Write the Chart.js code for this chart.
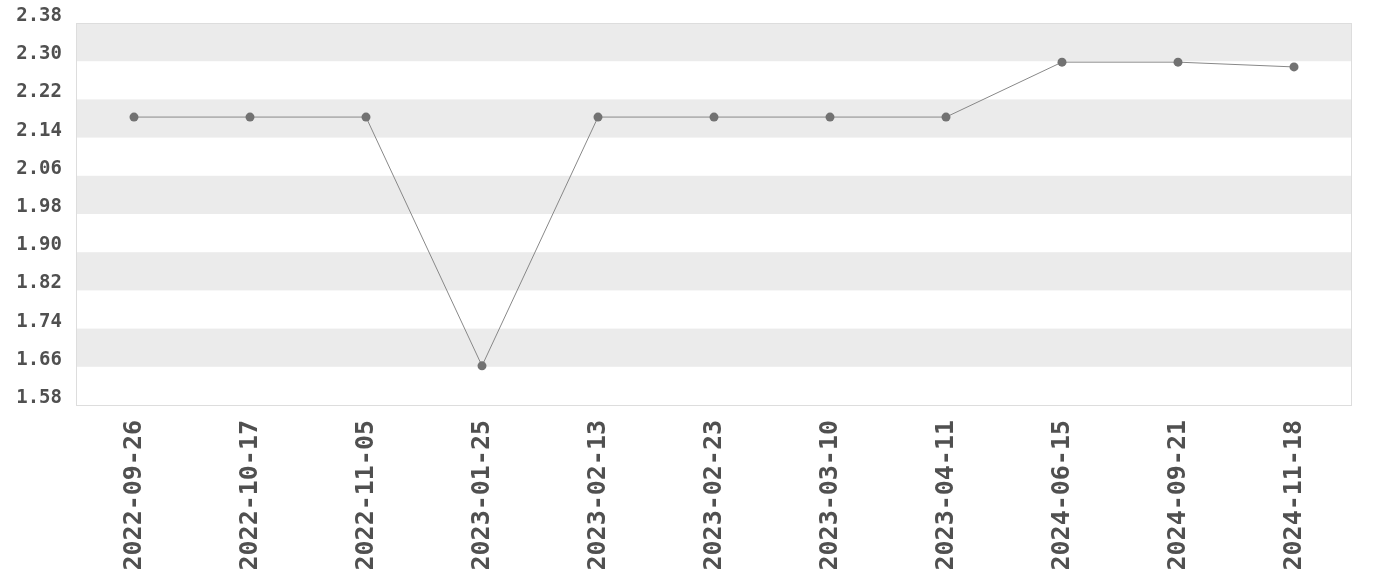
<!DOCTYPE html>
<html>
<head>
<meta charset="utf-8">
<script src="https://cdn.jsdelivr.net/npm/chart.js@4"></script>
<style>
html,body{margin:0;padding:0;background:#fff;}
#wrap{width:1380px;height:580px;position:relative;}
</style>
</head>
<body>
<div id="wrap"><canvas id="c" width="1380" height="580"></canvas></div>
<script>
const categories = ["2022-09-26","2022-10-17","2022-11-05","2023-01-25","2023-02-13","2023-02-23","2023-03-10","2023-04-11","2024-06-15","2024-09-21","2024-11-18"];
const values = [2.183, 2.183, 2.183, 1.662, 2.183, 2.183, 2.183, 2.183, 2.298, 2.298, 2.288];
const yTicks = [1.58, 1.66, 1.74, 1.82, 1.90, 1.98, 2.06, 2.14, 2.22, 2.30, 2.38];

const bandPlugin = {
  id: 'bands',
  beforeDatasetsDraw(chart) {
    const {ctx, chartArea: a, scales: {y}} = chart;
    ctx.save();
    for (let i = 0; i < yTicks.length - 1; i++) {
      if (i % 2 === 1) {
        const t = y.getPixelForValue(yTicks[i + 1]);
        const b = y.getPixelForValue(yTicks[i]);
        ctx.fillStyle = '#ebebeb';
        ctx.fillRect(a.left, t, a.right - a.left, b - t);
      }
    }
    ctx.strokeStyle = '#dddddd';
    ctx.lineWidth = 1;
    ctx.strokeRect(a.left + 0.5, a.top + 0.5, a.right - a.left - 1, a.bottom - a.top);
    ctx.restore();
  }
};

new Chart(document.getElementById('c'), {
  type: 'line',
  data: {
    labels: categories,
    datasets: [{
      data: values,
      borderColor: '#888888',
      borderWidth: 1,
      pointBackgroundColor: '#727272',
      pointBorderColor: '#727272',
      pointRadius: 4.5,
      pointBorderWidth: 0,
      tension: 0,
      fill: false
    }]
  },
  options: {
    responsive: false,
    animation: false,
    layout: {padding: {top: 23, right: 28, left: 0, bottom: 0}},
    plugins: {legend: {display: false}, tooltip: {enabled: false}},
    scales: {
      x: {
        offset: true,
        grid: {display: false, drawTicks: false},
        border: {display: false},
        ticks: {
          minRotation: 90, maxRotation: 90, autoSkip: false, padding: 15,
          color: '#505050',
          font: {family: 'DejaVu Sans Mono', weight: 'bold', size: 25}
        },
        afterFit(s) { s.height = 175; s.paddingLeft = 0; s.paddingRight = 0; }
      },
      y: {
        min: 1.58, max: 2.38,
        grid: {display: false, drawTicks: false},
        border: {display: false},
        afterBuildTicks(s) { s.ticks = yTicks.map(v => ({value: v})); },
        ticks: {
          padding: 14, labelOffset: -7,
          color: '#505050',
          font: {family: 'DejaVu Sans Mono', weight: 'bold', size: 19},
          callback: v => Number(v).toFixed(2)
        },
        afterFit(s) { s.width = 76; s.paddingTop = 0; s.paddingBottom = 0; }
      }
    }
  },
  plugins: [bandPlugin]
});
</script>
</body>
</html>
